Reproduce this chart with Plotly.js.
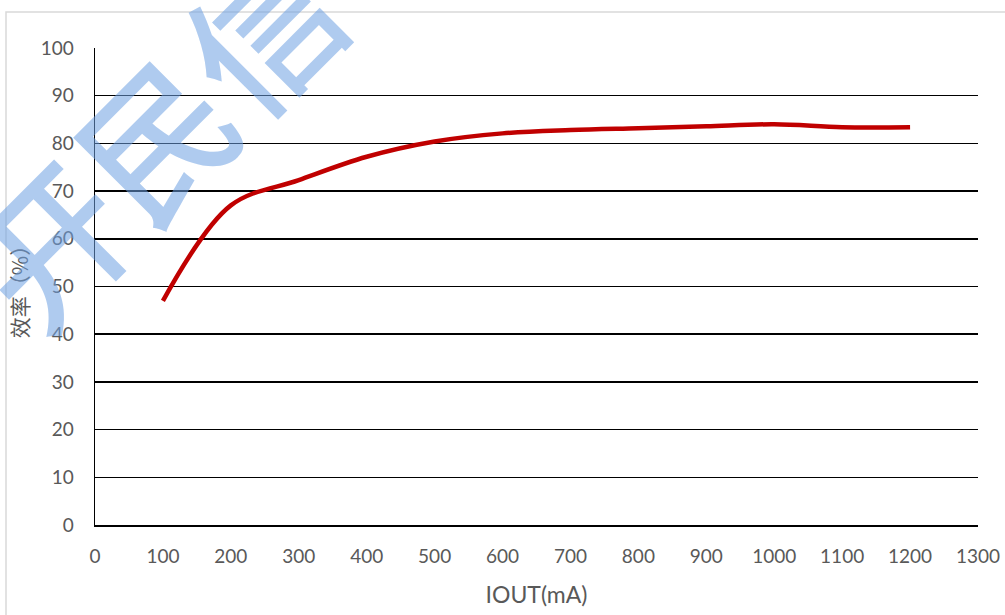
<!DOCTYPE html>
<html>
<head>
<meta charset="utf-8">
<script src="https://cdn.plot.ly/plotly-3.0.1.min.js"></script>
<style>html,body{margin:0;padding:0;background:#fff;}#chart{width:1005px;height:615px;}</style>
</head>
<body>
<div id="chart"></div>
<script>
const iout = [100, 200, 300, 400, 500, 600, 700, 800, 900, 1000, 1100, 1200];
const efficiency = [47, 67, 72.3, 77.2, 80.4, 82.1, 82.8, 83.2, 83.6, 84.0, 83.4, 83.4];
const xTitle = 'IOUT(mA)';
const yTitle = '效率（%）';
const watermark = '开民信电';

const tickFont = {family: 'Lato, "Noto Sans CJK SC", sans-serif', size: 19, color: '#595959'};

const trace = {
  x: iout, y: efficiency, type: 'scatter', mode: 'lines',
  line: {color: '#C00000', width: 4.5, shape: 'spline', smoothing: 1},
  hoverinfo: 'skip'
};

const layout = {
  width: 1005, height: 615,
  margin: {l: 95, r: 27, t: 48, b: 90},
  paper_bgcolor: '#ffffff', plot_bgcolor: '#ffffff',
  showlegend: false,
  xaxis: {
    range: [0, 1300], dtick: 100, tick0: 0,
    showgrid: false, zeroline: false,
    showline: true, linecolor: '#000', linewidth: 1.5,
    ticks: '', tickfont: tickFont, ticklabelstandoff: 14,
    title: {text: xTitle, font: {family: 'Lato, sans-serif', size: 23, color: '#595959'}, standoff: 20}
  },
  yaxis: {
    range: [0, 100], dtick: 10, tick0: 0,
    showgrid: true, gridcolor: '#000', gridwidth: 1.5,
    zeroline: false,
    showline: true, linecolor: '#000', linewidth: 1.5,
    ticks: '', tickfont: tickFont, ticklabelstandoff: 16,
    title: {text: yTitle, font: {family: '"Noto Sans CJK SC", sans-serif', size: 21, color: '#595959'}, standoff: 6}
  },
  shapes: [
    {type: 'rect', xref: 'paper', yref: 'paper', x0: -0.1008, x1: 1.08, y0: -0.3, y1: 1.0755,
     line: {color: '#D9D9D9', width: 1.5}, fillcolor: 'rgba(0,0,0,0)', layer: 'below'}
  ],
  annotations: [
    {xref: 'paper', yref: 'paper', x: 0.125, y: 0.93, xanchor: 'center', yanchor: 'middle',
     showarrow: false, text: watermark, textangle: -45,
     font: {family: '"Noto Sans CJK SC", sans-serif', size: 150, weight: 500, color: 'rgba(110,160,225,0.55)'}}
  ]
};

Plotly.newPlot('chart', [trace], layout, {displayModeBar: false, staticPlot: true});
</script>
</body>
</html>
